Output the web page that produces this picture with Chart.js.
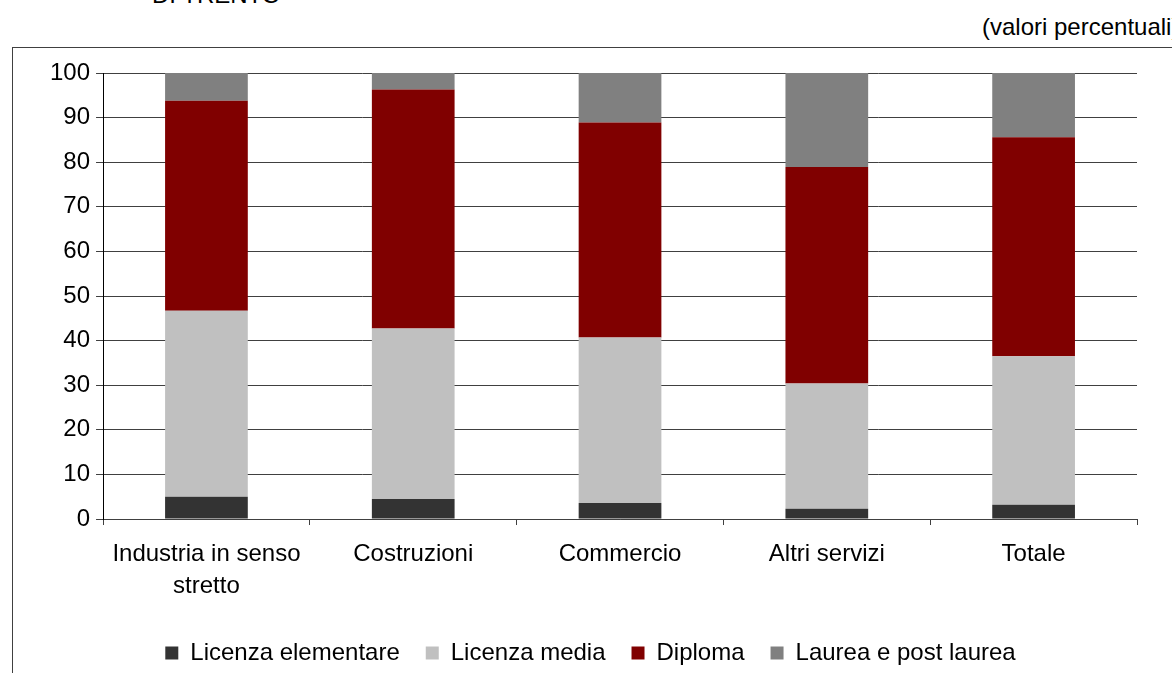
<!DOCTYPE html>
<html>
<head>
<meta charset="utf-8">
<script src="https://cdn.jsdelivr.net/npm/chart.js@4.4.1/dist/chart.umd.min.js"></script>
<style>
    html, body { margin: 0; padding: 0; background: #fff; overflow: hidden; }
    body { width: 1172px; height: 673px; position: relative; font-family: "Liberation Sans", Arial, sans-serif; }
    #frame { position: absolute; left: 12px; top: 47px; width: 1300px; height: 800px; border: 1px solid #404040; box-sizing: border-box; }
    #wrap { position: absolute; left: 0; top: 0; width: 1172px; height: 673px; }
    .note { position: absolute; font-size: 24px; color: #000; white-space: nowrap; }
</style>
</head>
<body>
<div id="frame"></div>
<div class="note" style="left:152px; top:-19px;">DI TRENTO</div>
<div class="note" style="left:982px; top:13px;">(valori percentuali)</div>
<div id="wrap"><canvas id="chart" width="1172" height="673"></canvas></div>
<script>
// settori e valori (%)
const categories = [['Industria in senso', 'stretto'], 'Costruzioni', 'Commercio', 'Altri servizi', 'Totale'];
const licenzaElementare = [5.0, 4.5, 3.6, 2.3, 3.2];
const licenzaMedia = [41.7, 38.2, 37.1, 28.1, 33.3];
const diploma = [47.1, 53.6, 48.2, 48.5, 49.1];
const laurea = [6.2, 3.7, 11.1, 21.1, 14.4];
const yTicks = [0, 10, 20, 30, 40, 50, 60, 70, 80, 90, 100];

document.addEventListener('DOMContentLoaded', function () {
    const ctx = document.getElementById('chart').getContext('2d');
    const font = { family: '"Liberation Sans", Arial, sans-serif', size: 24 };

    function series(label, data, color) {
        return {
            label: label,
            data: data,
            backgroundColor: color,
            borderWidth: 0,
            barPercentage: 0.4,
            categoryPercentage: 1.0
        };
    }

    new Chart(ctx, {
        type: 'bar',
        data: {
            labels: categories,
            datasets: [
                series('Licenza elementare', licenzaElementare, '#333333'),
                series('Licenza media', licenzaMedia, '#c0c0c0'),
                series('Diploma', diploma, '#800000'),
                series('Laurea e post laurea', laurea, '#808080')
            ]
        },
        options: {
            responsive: false,
            animation: false,
            layout: { padding: { left: 44, right: 35, top: 73, bottom: -2 } },
            plugins: {
                legend: {
                    position: 'bottom',
                    labels: {
                        font: font,
                        color: '#000',
                        boxWidth: 13,
                        boxHeight: 13,
                        padding: 26
                    }
                },
                tooltip: { enabled: false }
            },
            scales: {
                x: {
                    stacked: true,
                    grid: {
                        drawOnChartArea: false,
                        drawTicks: true,
                        tickLength: 6,
                        color: '#404040',
                        offset: true
                    },
                    border: { color: '#404040', width: 1 },
                    ticks: { font: Object.assign({ lineHeight: 1.333 }, font), color: '#000', padding: 13, maxRotation: 0, autoSkip: false }
                },
                y: {
                    stacked: true,
                    min: 0,
                    max: 100,
                    afterBuildTicks: function (axis) {
                        axis.ticks = yTicks.map(v => ({ value: v }));
                    },
                    grid: { color: '#404040', lineWidth: 1, tickLength: 7 },
                    border: { color: '#000', width: 1 },
                    ticks: { font: font, color: '#000', padding: 6 }
                }
            }
        }
    });
});
</script>
</body>
</html>
